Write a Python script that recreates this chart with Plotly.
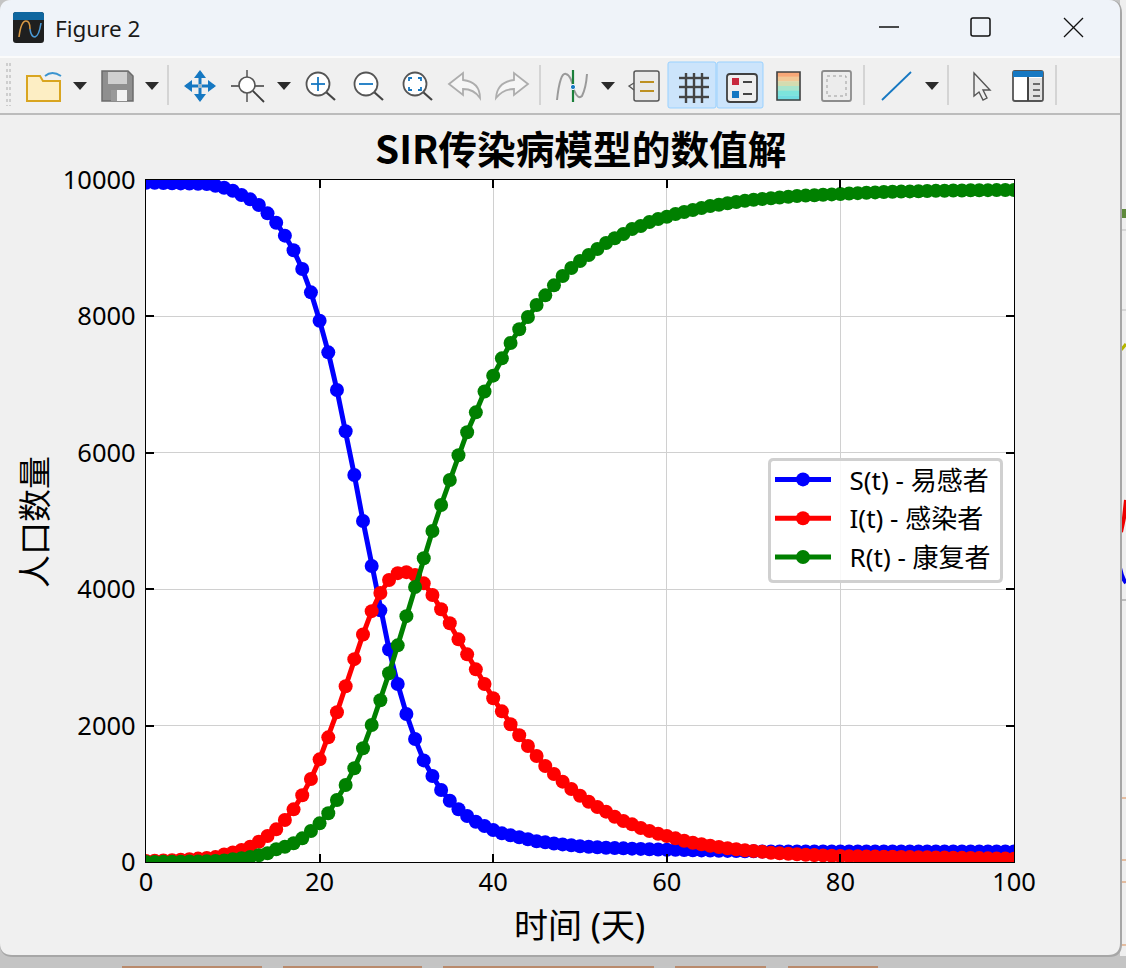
import plotly.graph_objects as go

t = list(range(101))
S = [9960,9958,9956,9953,9950,9948,9945,9941,9916,9887,9843,9780,9716,9633,9511,9374,9184,8969,8695,8353,
     7937,7473,6920,6315,5675,5000,4340,3690,3115,2610,2170,1804,1490,1261,1056,899,773,674,591,528,
     469,420,391,362,333,305,288,272,258,245,232,224,216,208,204,200,196,192,188,184,
     180,178,175,172,170,168,165,163,161,158,156,155,155,155,155,155,155,155,155,155,
     155,155,155,155,155,155,155,155,155,155,155,155,155,155,155,155,155,155,155,155,155]
I = [15,18,22,27,33,41,50,60,72,110,139,175,225,298,381,479,616,772,978,1217,
     1505,1828,2195,2576,2974,3335,3678,3945,4135,4235,4250,4208,4086,3915,3705,3500,3265,3045,2825,2610,
     2400,2209,2019,1858,1700,1554,1408,1290,1178,1070,972,884,806,738,664,601,552,499,455,415,
     381,347,312,283,260,239,220,201,186,172,161,151,136,128,122,113,107,102,97,92,
     88,86,84,82,80,78,76,74,72,70,69,67,65,63,61,59,57,55,53,50,48]
R = [0,1,2,3,5,7,9,12,16,23,40,55,75,100,128,186,224,274,347,455,
     567,714,909,1129,1374,1667,2009,2371,2767,3177,3605,4033,4453,4853,5235,5601,5965,6302,6593,6898,
     7131,7385,7610,7811,7991,8167,8309,8455,8592,8710,8812,8900,8988,9076,9145,9208,9282,9326,9384,9428,
     9462,9501,9531,9560,9589,9619,9637,9658,9677,9695,9711,9722,9733,9744,9755,9765,9771,9777,9783,9789,
     9795,9801,9807,9813,9818,9824,9827,9830,9833,9836,9839,9841,9843,9845,9847,9849,9850,9851,9852,9853,9853]

series_names = ["\u00a0\u00a0S(t) - 易感者", "\u00a0\u00a0I(t) - 感染者", "\u00a0\u00a0R(t) - 康复者"]
series_colors = ["#0000ff", "#ff0000", "#008000"]
x_ticks = [0, 20, 40, 60, 80, 100]
y_ticks = [0, 2000, 4000, 6000, 8000, 10000]
title_text = "SIR传染病模型的数值解"
x_label = "时间 (天)"
y_label = "人口数量"
window_title = "Figure 2"

W, H = 1126, 968
L, Rr, T, B = 146, 1014, 180, 862
FONT = "Noto Sans, Noto Sans CJK SC, sans-serif"
CJK = "Noto Sans CJK SC, sans-serif"

fig = go.Figure()
for vals, name, col in zip([S, I, R], series_names, series_colors):
    fig.add_trace(go.Scatter(x=t, y=vals, mode="lines+markers", name=name, legendgroup=name,
                             line=dict(color=col, width=5),
                             marker=dict(color=col, size=14, line=dict(width=0))))

def px(x): return (x - L) / (Rr - L)
def py(y): return (B - y) / (B - T)

shapes = []
def conv(d):
    out, isx = [], True
    for tok in d.split():
        if tok.isalpha():
            out.append(tok); isx = True
        else:
            v = float(tok)
            out.append(f"{px(v) if isx else py(v):.5f}")
            isx = not isx
    return " ".join(out)
def path(d, fill=None, lc=None, lw=1.0, layer="below"):
    s = dict(type="path", xref="paper", yref="paper", path=conv(d), layer=layer,
             line=dict(color=lc or "rgba(0,0,0,0)", width=lw if lc else 0))
    if fill: s["fillcolor"] = fill
    shapes.append(s)
def rect(x0, y0, x1, y1, fill=None, lc=None, lw=1.0):
    s = dict(type="rect", xref="paper", yref="paper", x0=px(x0), x1=px(x1), y0=py(y0), y1=py(y1), layer="below",
             line=dict(color=lc or "rgba(0,0,0,0)", width=lw if lc else 0))
    if fill: s["fillcolor"] = fill
    shapes.append(s)
def rrect(x0, y0, x1, y1, r, fill=None, lc=None, lw=1.0, layer="below"):
    path(f"M {x0+r} {y0} L {x1-r} {y0} Q {x1} {y0} {x1} {y0+r} L {x1} {y1-r} Q {x1} {y1} {x1-r} {y1} "
         f"L {x0+r} {y1} Q {x0} {y1} {x0} {y1-r} L {x0} {y0+r} Q {x0} {y0} {x0+r} {y0} Z", fill, lc, lw, layer)
def circ(cx, cy, r, fill=None, lc=None, lw=1.0):
    s = dict(type="circle", xref="paper", yref="paper", x0=px(cx-r), x1=px(cx+r), y0=py(cy-r), y1=py(cy+r), layer="below",
             line=dict(color=lc or "rgba(0,0,0,0)", width=lw if lc else 0))
    if fill: s["fillcolor"] = fill
    shapes.append(s)
def line(x0, y0, x1, y1, c, w=1.0):
    path(f"M {x0} {y0} L {x1} {y1}", None, c, w)
def tri(x0, x1, y0=82, y1=90):
    path(f"M {x0} {y0} L {x1} {y0} L {(x0+x1)/2} {y1} Z", "#2b2b2b")

# desktop behind the window
rect(0, 0, W, H, "#c4c4c4")
rect(1120, 0, W, 956, "#efefef")
rect(1120, 209, W, 218, "#5f8a3c")
for yy, c in [(230, "#bdbdbd"), (310, "#bdbdbd"), (600, "#8a8a8a"), (798, "#d98a50"), (860, "#d98a50"), (882, "#d98a50"), (945, "#d98a50")]:
    line(1120, yy, W, yy, c, 1)
path("M 1120 351 Q 1123 348 1126 344", None, "#b5b500", 3)
path("M 1121 532 L 1124 518 L 1126 500", None, "#ee0000", 4)
path("M 1120 568 Q 1122 578 1126 583", None, "#0000ee", 4)
for x0, x1 in [(122, 262), (283, 422), (443, 654), (675, 766), (788, 878)]:
    rect(x0, 966, x1, 968, "#b98a6c")
# window
rrect(0, 0, 1122, 957, 13, "#a6a6a6")
rrect(0, 0, 1120, 955, 12, "#f0f0f0")
path("M 0 56 L 0 12 Q 0 0 12 0 L 1108 0 Q 1120 0 1120 12 L 1120 56 Z", "#eff3f9")
rect(0, 56, 1120, 58, "#fbfbfb")
rect(0, 113, 1120, 115, "#bcbcbc")
# app icon
rrect(13, 12, 44, 43, 3, "#1f1f1f")
path("M 13 20 L 13 15 Q 13 12 16 12 L 41 12 Q 44 12 44 15 L 44 20 Z", "#0f669f")
path("M 19 37 Q 21 21 26 21 Q 30 21 30 29", None, "#d99a45", 1.6)
path("M 30 29 Q 31 37 35 37 Q 39 36 41 23", None, "#4a9ad8", 1.6)
# window buttons
line(879, 27, 899, 27, "#111111", 1.5)
rrect(971, 18, 990, 36, 2, None, "#111111", 1.5)
line(1064, 18, 1083, 37, "#111111", 1.3)
line(1083, 18, 1064, 37, "#111111", 1.3)
# toolbar: grip + separators
for gx in (7, 10):
    shapes.append(dict(type="line", xref="paper", yref="paper", x0=px(gx), x1=px(gx), y0=py(63), y1=py(106),
                       layer="below", line=dict(color="#c2c2c2", width=1.5, dash="dot")))
for sx in (168, 540, 864, 948, 1056):
    rect(sx-1, 65, sx+1, 105, "#d4d4d4")
for a, b in [(73, 87), (145, 159), (277, 291), (601, 615), (925, 939)]:
    tri(a, b)
# folder
path("M 27 76 L 40 76 L 43 81 L 60 81 L 60 101 L 27 101 Z", "#fdeec4", "#d9a520", 2)
path("M 45 76 Q 52 70 61 76", None, "#3a94d0", 1.8)
# save
path("M 102 71 L 128 71 L 133 76 L 133 101 L 102 101 Z", "#8f8f8f", "#6c6c6c", 1.5)
rect(108, 72, 127, 84, "#cfcfcf")
rect(111, 90, 127, 101, "#f4f4f4")
rect(111, 90, 117, 101, "#9a9a9a")
# pan
bl = "#1678c2"
line(186, 86, 214, 86, bl, 3); line(200, 72, 200, 100, bl, 3)
path("M 184 86 L 192 80 L 192 92 Z", bl); path("M 216 86 L 208 80 L 208 92 Z", bl)
path("M 200 70 L 194 78 L 206 78 Z", bl); path("M 200 102 L 194 94 L 206 94 Z", bl)
rect(198, 84, 202, 88, "#9fb6c6")
# zoom target
dk = "#3c3c3c"
line(231, 86, 264, 86, dk, 1.3); line(247, 70, 247, 102, dk, 1.3)
circ(247, 85, 8, "#ffffff", "#555555", 1.6)
line(253, 91, 264, 102, dk, 1.8)
# magnifiers
for cx in (318, 366, 415):
    line(cx+8, 92, cx+17, 100, "#444444", 2.2)
    circ(cx, 84, 11.5, "#ffffff", "#555555", 1.8)
line(311, 84, 325, 84, bl, 1.8); line(318, 77, 318, 91, bl, 1.8)
line(359, 84, 373, 84, bl, 1.8)
for dx, dy in [(-1, -1), (1, -1), (1, 1), (-1, 1)]:
    x0, y0 = 415 + 6*dx, 84 + 6*dy
    path(f"M {x0} {y0-3*dy} L {x0} {y0} L {x0-3*dx} {y0}", None, bl, 1.8)
# undo / redo
path("M 449 84 L 463 73 L 463 80 Q 480 82 480 98 Q 474 89 463 89 L 463 95 Z", "#f6f6f6", "#adadad", 1.8)
path("M 528 84 L 514 73 L 514 80 Q 497 82 496 98 Q 503 89 514 89 L 514 95 Z", "#f6f6f6", "#adadad", 1.8)
# curve tool
path("M 557 100 Q 560 72 566 74 Q 571 75 574 90 Q 578 100 582 96 Q 586 88 587 74", None, "#9a9a9a", 2)
line(573, 70, 573, 102, "#1b7f3a", 2.2)
circ(573, 87, 2.6, "#1678c2", "#ffffff", 1)
# annotation
rrect(634, 71, 659, 101, 2, "#e9e9e9", "#555555", 1.5)
line(640, 82, 654, 82, "#b8860b", 1.8); line(640, 91, 654, 91, "#b8860b", 1.8)
path("M 634 83 L 629 86 L 634 90", None, "#555555", 1.3)
# active buttons
rrect(668, 62, 716, 108, 2, "#cce4fb", "#99d1ff", 1)
rrect(717, 62, 763, 108, 2, "#cce4fb", "#99d1ff", 1)
for gx in (686, 694, 702):
    line(gx, 73, gx, 103, "#444444", 2.4)
for gy in (78, 87, 97):
    line(679, gy, 709, gy, "#444444", 2.4)
rrect(727, 74, 757, 102, 3, "#eeeeee", "#404040", 1.8)
rect(732, 78, 739, 85, "#c8283c"); rect(732, 91, 739, 98, "#1678c2")
line(743, 82, 752, 82, "#444444", 2); line(743, 94, 752, 94, "#444444", 2)
# colorbar icon
for i, c in enumerate(["#f8a878", "#f2c896", "#d4dcb0", "#a8e4cc", "#7ce4dc", "#70dce0"]):
    rect(777, 72 + i*28/6, 800, 72 + (i+1)*28/6 + .3, c)
rect(777, 72, 800, 100, None, "#404040", 1.6)
# box icon
rrect(822, 71, 851, 101, 2, "#ececec", "#8c8c8c", 1.8)
shapes.append(dict(type="rect", xref="paper", yref="paper", x0=px(827), x1=px(846), y0=py(76), y1=py(96), layer="below",
                   line=dict(color="#9c9c9c", width=1, dash="dot")))
# line icon
line(882, 100, 911, 72, "#1678c2", 1.8)
# cursor
path("M 974 73 L 990 90 L 983 90 L 987 98 L 983 100 L 979 92 L 974 96 Z", "#efefef", "#555555", 1.4)
# panel
rrect(1013, 71, 1043, 101, 2, "#ffffff", "#555555", 1.8)
rect(1013, 71, 1043, 77, "#1678c2")
rect(1028, 78, 1042, 100, "#e2e2e2")
line(1028, 77, 1028, 101, "#444444", 2)
for gy in (84, 90, 96):
    line(1033, gy, 1040, gy, "#444444", 1.5)
# white plot area, and the rounded legend box over the curves
rect(L, T, Rr, B, "#ffffff")
rrect(769.5, 459.5, 1001.5, 581.5, 4, "rgba(255,255,255,0.85)", "#d0d0d0", 3, layer="above")

annotations = [
    dict(text=window_title, xref="paper", yref="paper", x=px(52.5), y=py(29), xanchor="left", yanchor="middle",
         showarrow=False, font=dict(family=FONT, size=22.5, color="#1a1a1a")),
    dict(text=title_text, xref="paper", yref="paper", x=px(580), y=py(147), xanchor="center", yanchor="middle",
         showarrow=False, font=dict(family=CJK, size=38.7, color="#000000", weight="bold")),
    dict(text=x_label, xref="paper", yref="paper", x=px(579), y=py(925), xanchor="center", yanchor="middle",
         showarrow=False, font=dict(family=FONT, size=34, color="#000000")),
    dict(text=y_label, xref="paper", yref="paper", x=px(34), y=py(522), xanchor="center", yanchor="middle",
         textangle=-90, showarrow=False, font=dict(family=FONT, size=33, color="#000000")),
]

axis_common = dict(showline=True, linecolor="#000000", linewidth=1.4, mirror="ticks", ticks="inside", ticklen=8,
                   tickwidth=1.5, tickcolor="#000000", showgrid=True, gridcolor="#d0d0d0", gridwidth=1.3,
                   zeroline=False, tickfont=dict(family=FONT, size=25.5, color="#000000"))

fig.update_layout(
    width=W, height=H, autosize=False,
    margin=dict(l=L, r=W-Rr, t=T, b=H-B, pad=0),
    paper_bgcolor="#f0f0f0", plot_bgcolor="#ffffff",
    font=dict(family=FONT, color="#000000"),
    xaxis=dict(range=[0, 100], tickvals=x_ticks, ticktext=[str(v) for v in x_ticks], ticklabelstandoff=-3, **axis_common),
    yaxis=dict(range=[0, 10000], tickvals=y_ticks, ticktext=[str(v) for v in y_ticks], ticklabelstandoff=4, **axis_common),
    showlegend=True,
    legend=dict(x=px(767), y=py(453), xanchor="left", yanchor="top", bgcolor="rgba(0,0,0,0)",
                bordercolor="rgba(0,0,0,0)", borderwidth=3, font=dict(family=FONT, size=26, color="#000000"),
                itemwidth=56, tracegroupgap=2, itemsizing="trace"),
    shapes=shapes, annotations=annotations,
)
fig.write_html("out.html", config=dict(displayModeBar=False),
               post_script="document.body.style.margin='0';document.body.style.overflow='hidden';")
